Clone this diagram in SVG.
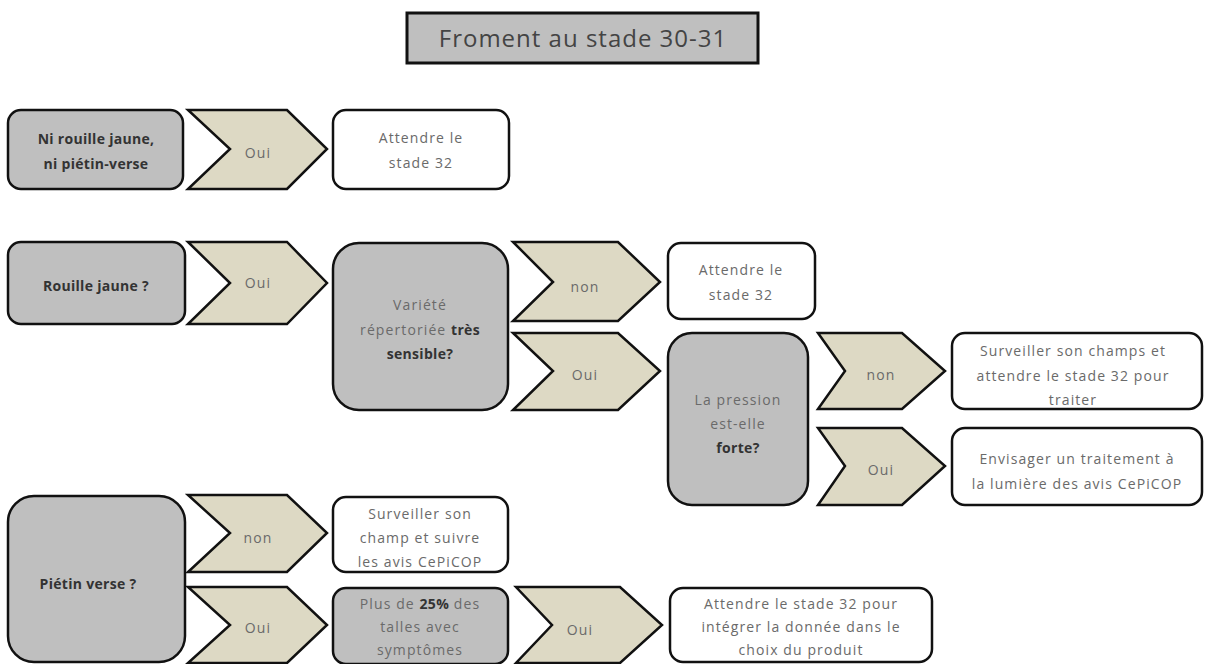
<svg xmlns="http://www.w3.org/2000/svg" width="1207" height="664" viewBox="0 0 1207 664">
<style>
.g{fill:#bfbfbf;stroke:#111;stroke-width:2.5}
.w{fill:#fff;stroke:#111;stroke-width:2.5}
.c{fill:#ddd9c4;stroke:#111;stroke-width:2.5;stroke-linejoin:miter}
text{font-family:"Open Sans","Liberation Sans",sans-serif;font-size:14px;fill:#6a6a6a;text-anchor:middle;letter-spacing:1.1px}
.b{font-weight:bold;fill:#333;letter-spacing:0.3px}
.t{font-size:24px;fill:#444;letter-spacing:1px}
</style>
<rect width="1207" height="664" fill="#fff"/>
<g id="title"><rect x="407" y="13" width="351" height="50" fill="#bfbfbf" stroke="#111" stroke-width="3"/><text class="t" x="583" y="47">Froment au stade 30-31</text></g>
<g id="n1"><rect class="g" x="8" y="110" width="175" height="79" rx="13"/><text class="b" x="96" y="144">Ni rouille jaune,</text><text class="b" x="96" y="169">ni piétin-verse</text></g>
<g id="n2"><rect class="w" x="333" y="110" width="176" height="79" rx="13"/><text x="421" y="143">Attendre le</text><text x="421" y="168">stade 32</text></g>
<g id="n3"><rect class="g" x="8" y="242" width="177" height="82" rx="13"/><text class="b" x="96" y="291">Rouille jaune ?</text></g>
<g id="n4"><rect class="g" x="333" y="243" width="175" height="167" rx="26"/><text x="420" y="310">Variété</text><text x="420" y="335">répertoriée <tspan class="b">très</tspan></text><text class="b" x="420" y="359">sensible?</text></g>
<g id="n5"><rect class="w" x="668" y="243" width="147" height="76" rx="13"/><text x="741" y="275">Attendre le</text><text x="741" y="300">stade 32</text></g>
<g id="n6"><rect class="g" x="668" y="333" width="140" height="172" rx="24"/><text x="738" y="405">La pression</text><text x="738" y="429">est-elle</text><text class="b" x="738" y="453">forte?</text></g>
<g id="n7"><rect class="w" x="952" y="333" width="250" height="76" rx="13"/><text x="1073" y="356">Surveiller son champs et</text><text x="1073" y="381">attendre le stade 32 pour</text><text x="1073" y="405">traiter</text></g>
<g id="n8"><rect class="w" x="952" y="428" width="250" height="77" rx="13"/><text x="1077" y="464">Envisager un traitement à</text><text x="1077" y="489">la lumière des avis CePiCOP</text></g>
<g id="n9"><rect class="g" x="8" y="496" width="177" height="166" rx="26"/><text class="b" x="88" y="589">Piétin verse ?</text></g>
<g id="n10"><rect class="w" x="333" y="497" width="175" height="75" rx="13"/><text x="420" y="519">Surveiller son</text><text x="420" y="543">champ et suivre</text><text x="420" y="567">les avis CePiCOP</text></g>
<g id="n11"><rect class="g" x="333" y="588" width="175" height="76" rx="13"/><text x="420" y="609">Plus de <tspan class="b">25%</tspan> des</text><text x="420" y="632">talles avec</text><text x="420" y="655">symptômes</text></g>
<g id="n12"><rect class="w" x="670" y="588" width="262" height="74" rx="13"/><text x="801" y="609">Attendre le stade 32 pour</text><text x="801" y="632">intégrer la donnée dans le</text><text x="801" y="655">choix du produit</text></g>
<g id="connectors">
<g id="c1"><path class="c" d="M188,110 L287,110 L327,149 L287,189 L188,189 L230,149 Z"/><text x="258" y="158">Oui</text></g>
<g id="c2"><path class="c" d="M188,242 L287,242 L327,283 L287,324 L188,324 L230,283 Z"/><text x="258" y="288">Oui</text></g>
<g id="c3"><path class="c" d="M513,242 L618,242 L660,282 L618,321 L513,321 L553,282 Z"/><text x="585" y="292">non</text></g>
<g id="c4"><path class="c" d="M513,333 L618,333 L660,371 L618,410 L513,410 L553,371 Z"/><text x="585" y="380">Oui</text></g>
<g id="c5"><path class="c" d="M818,333 L902,333 L945,371 L902,409 L818,409 L845,371 Z"/><text x="881" y="380">non</text></g>
<g id="c6"><path class="c" d="M818,428 L902,428 L945,466 L902,505 L818,505 L845,466 Z"/><text x="881" y="475">Oui</text></g>
<g id="c7"><path class="c" d="M188,495 L287,495 L327,533 L287,572 L188,572 L230,533 Z"/><text x="258" y="543">non</text></g>
<g id="c8"><path class="c" d="M188,587 L287,587 L327,625 L287,663 L188,663 L230,625 Z"/><text x="258" y="633">Oui</text></g>
<g id="c9"><path class="c" d="M516,587 L620,587 L662,625 L620,663 L516,663 L552,625 Z"/><text x="580" y="635">Oui</text></g>
</g>
</svg>
